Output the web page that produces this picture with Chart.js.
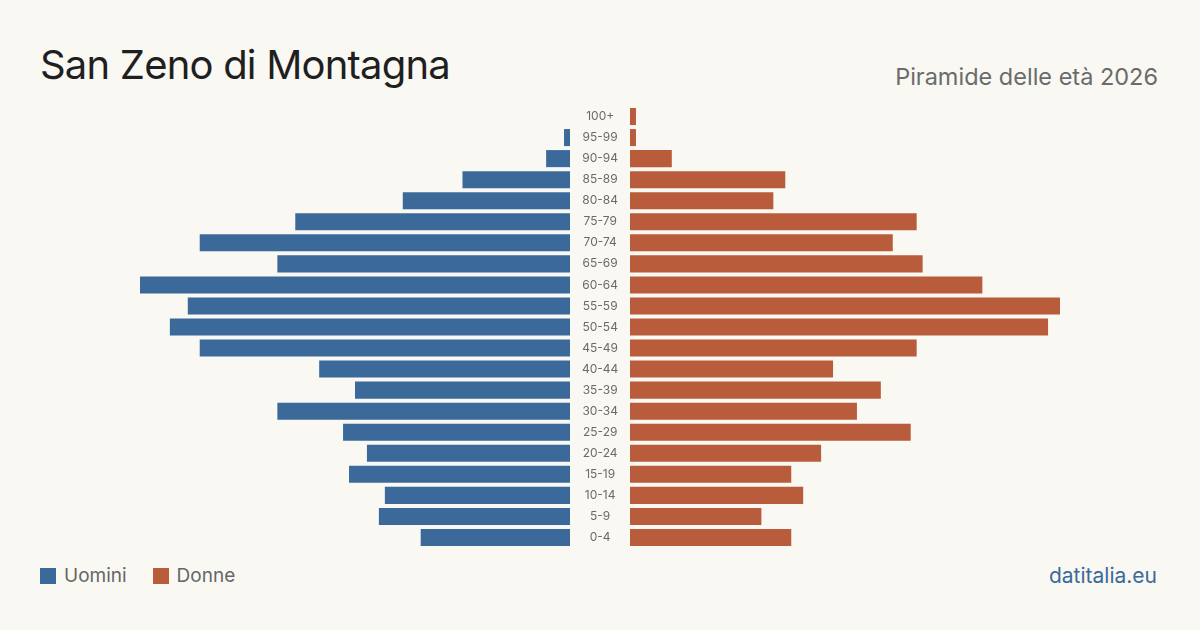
<!DOCTYPE html>
<html>
<head>
<meta charset="utf-8">
<script src="https://cdn.jsdelivr.net/npm/chart.js@4/dist/chart.umd.min.js"></script>
<style>
html,body{margin:0;padding:0;}
body{width:1200px;height:630px;background:#f9f8f3;position:relative;overflow:hidden;font-family:Inter,"Noto Sans",sans-serif;}
#title{position:absolute;left:40px;top:45px;font-size:40px;color:#1f1f1f;letter-spacing:-0.8px;line-height:1;}
#subtitle{position:absolute;right:42px;top:65px;font-size:23.5px;color:#6b6b6b;line-height:1;}
#leftBox{position:absolute;left:140px;top:106px;width:490px;height:442px;}
#rightBox{position:absolute;left:630px;top:106px;width:430px;height:442px;}
#legend{position:absolute;left:40px;top:566px;font-size:19px;color:#666;display:flex;align-items:center;line-height:1;}
#legend .sw{width:16px;height:16px;display:inline-block;margin-right:8px;}
#legend .item{display:flex;align-items:center;margin-right:26px;}
#source{position:absolute;right:43px;top:565px;font-size:21px;color:#3b6a9a;line-height:1;}
</style>
</head>
<body>
<div id="title">San Zeno di Montagna</div>
<div id="subtitle">Piramide delle età 2026</div>
<div id="leftBox"><canvas id="maleChart"></canvas></div>
<div id="rightBox"><canvas id="femaleChart"></canvas></div>
<div id="legend">
    <div class="item"><span class="sw" style="background:#3b6a9a"></span>Uomini</div>
    <div class="item"><span class="sw" style="background:#b95c3b"></span>Donne</div>
</div>
<div id="source">datitalia.eu</div>
<script>
/*========== Data ==========*/

const ageGroups=["100+","95-99","90-94","85-89","80-84","75-79","70-74","65-69","60-64","55-59","50-54","45-49","40-44","35-39","30-34","25-29","20-24","15-19","10-14","5-9","0-4"];
const males=[0,1,4,18,28,46,62,49,72,64,67,62,42,36,49,38,34,37,31,32,25];
const females=[1,1,7,26,24,48,44,49,59,72,70,48,34,42,38,47,32,27,29,22,27];

const MALE_COLOR="#3b6a9a";
const FEMALE_COLOR="#b95c3b";
const maxValue=Math.max(...males,...females);

/*========== Charts ==========*/

Chart.defaults.font.family="Inter, 'Noto Sans', sans-serif";
Chart.defaults.animation=false;

function baseOptions(){
    return {
        indexAxis:"y",
        responsive:true,
        maintainAspectRatio:false,
        layout:{padding:0},
        plugins:{legend:{display:false},tooltip:{enabled:false}},
        datasets:{bar:{categoryPercentage:1,barPercentage:0.81}}
    };
}

const leftOpts=baseOptions();
leftOpts.scales={
    x:{display:false,reverse:true,min:0,max:maxValue},
    y:{
        position:"right",
        grid:{display:false},
        border:{display:false},
        // keep label column fixed and stop label padding from shrinking the rows
        afterFit:s=>{s.width=60;s.paddingTop=0;s.paddingBottom=0;},
        ticks:{color:"#6a6a6a",font:{size:12},padding:4,crossAlign:"center"}
    }
};

new Chart(document.getElementById("maleChart"),{
    type:"bar",
    data:{labels:ageGroups,datasets:[{label:"Uomini",data:males,backgroundColor:MALE_COLOR}]},
    options:leftOpts
});

const rightOpts=baseOptions();
rightOpts.scales={
    x:{display:false,min:0,max:maxValue},
    y:{display:false}
};

new Chart(document.getElementById("femaleChart"),{
    type:"bar",
    data:{labels:ageGroups,datasets:[{label:"Donne",data:females,backgroundColor:FEMALE_COLOR}]},
    options:rightOpts
});
</script>
</body>
</html>
